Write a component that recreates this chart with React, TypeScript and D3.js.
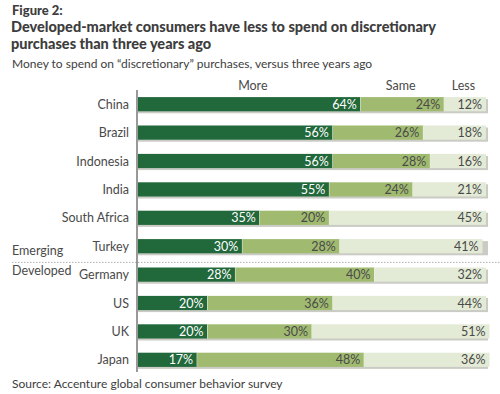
import React, { useEffect, useRef } from 'react';
import * as d3 from 'd3';

const countries = ['China', 'Brazil', 'Indonesia', 'India', 'South Africa', 'Turkey', 'Germany', 'US', 'UK', 'Japan'];
const more = [64, 56, 56, 55, 35, 30, 28, 20, 20, 17];
const same = [24, 26, 28, 24, 20, 28, 40, 36, 30, 48];
const less = [12, 18, 16, 21, 45, 41, 32, 44, 51, 36];
const seriesNames = ['More', 'Same', 'Less'];

const colors = ['#21683a', '#a0bb70', '#e3ead6'];
const textColors = ['#ffffff', '#4a4a4a', '#4a4a4a'];
const font = 'Lato, "Open Sans", sans-serif';

const App: React.FC = () => {
  const ref = useRef<SVGSVGElement | null>(null);

  useEffect(() => {
    const svg = d3.select(ref.current);
    svg.selectAll('*').remove();

    const x = d3.scaleLinear().domain([0, 100]).range([138, 486]);
    const y = d3.scaleBand().domain(countries).range([90, 374]).paddingInner(0.5).paddingOuter(0.25);

    // titles
    svg.append('text').attr('x', 12).attr('y', 15).attr('font-family', font).attr('font-weight', 900)
      .attr('font-size', 13).attr('fill', '#3d3d3d').text('Figure 2:');
    const titleLines = ['Developed-market consumers have less to spend on discretionary', 'purchases than three years ago'];
    titleLines.forEach((t, i) => {
      svg.append('text').attr('x', 11).attr('y', 32 + i * 16.5).attr('font-family', font).attr('font-weight', 900)
        .attr('font-size', 14.5).attr('fill', '#3d3d3d').text(t);
    });
    svg.append('text').attr('x', 12).attr('y', 68).attr('font-family', font)
      .attr('font-size', 12).attr('fill', '#3d3d3d')
      .text('Money to spend on \u201cdiscretionary\u201d purchases, versus three years ago');

    // column headers
    const headerX = [x(33), x(75.5), x(93.5)];
    seriesNames.forEach((s, i) => {
      svg.append('text').attr('x', headerX[i]).attr('y', 90).attr('text-anchor', 'middle')
        .attr('font-family', font).attr('font-size', 12.5).attr('fill', '#4a4a4a').text(s);
    });

    // separator between emerging / developed
    const sepY = (y('Turkey')! + y.bandwidth() + y('Germany')!) / 2 + 2;
    svg.append('line').attr('x1', 12).attr('x2', 500).attr('y1', sepY).attr('y2', sepY)
      .attr('stroke', '#9a9a9a').attr('stroke-width', 0.8).attr('stroke-dasharray', '1.5,1.5');
    svg.append('text').attr('x', 12).attr('y', sepY - 7).attr('font-family', font).attr('font-size', 12.5)
      .attr('fill', '#4a4a4a').text('Emerging');
    svg.append('text').attr('x', 12).attr('y', sepY + 13).attr('font-family', font).attr('font-size', 12.5)
      .attr('fill', '#4a4a4a').text('Developed');

    // bars
    countries.forEach((c, i) => {
      const vals = [more[i], same[i], less[i]];
      const by = y(c)!;
      const bh = y.bandwidth();
      // shadow
      svg.append('rect').attr('x', x(0)).attr('y', by + 2).attr('width', x(100) - x(0) + 2).attr('height', bh)
        .attr('fill', '#c9cbc4');
      let acc = 0;
      vals.forEach((v, k) => {
        const x0 = x(acc);
        const x1 = x(acc + v);
        svg.append('rect').attr('x', x0).attr('y', by).attr('width', x1 - x0).attr('height', bh)
          .attr('fill', colors[k]);
        if (k < 2) {
          svg.append('line').attr('x1', x1).attr('x2', x1).attr('y1', by).attr('y2', by + bh)
            .attr('stroke', '#f4f6ee').attr('stroke-width', 1);
        }
        svg.append('text').attr('x', x1 - 4).attr('y', by + bh / 2).attr('dy', '0.36em')
          .attr('text-anchor', 'end').attr('font-family', font).attr('font-size', 12.5)
          .attr('fill', textColors[k]).text(`${v}%`);
        acc += v;
      });
      svg.append('text').attr('x', 129).attr('y', by + bh / 2).attr('dy', '0.36em')
        .attr('text-anchor', 'end').attr('font-family', font).attr('font-size', 12.5)
        .attr('fill', '#4a4a4a').text(c);
    });

    // axis line
    svg.append('line').attr('x1', 137).attr('x2', 137).attr('y1', 90).attr('y2', 372)
      .attr('stroke', '#555').attr('stroke-width', 1.2);

    svg.append('text').attr('x', 12).attr('y', 388).attr('font-family', font).attr('font-size', 12)
      .attr('fill', '#3d3d3d').text('Source: Accenture global consumer behavior survey');
  }, []);

  return <svg ref={ref} width={500} height={394} style={{ position: 'absolute', left: 0, top: 0, background: '#fff' }} />;
};

export default App;
